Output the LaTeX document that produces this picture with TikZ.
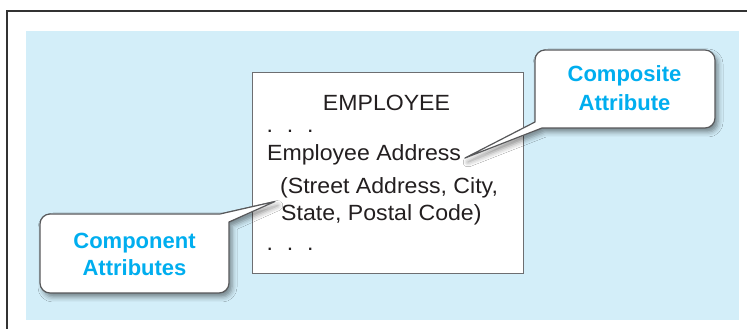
\documentclass[tikz,border=0pt]{standalone}
\usepackage{fontspec}
\setmainfont{Liberation Sans}
\newfontfamily\bodyfont{Liberation Sans}[FakeStretch=1.05]
\usetikzlibrary{shadows.blur}
\definecolor{bgblue}{HTML}{D3EEF9}
\definecolor{frame}{HTML}{333333}
\definecolor{txt}{HTML}{231F20}
\definecolor{cyantxt}{HTML}{00AEEF}
\definecolor{boxline}{HTML}{6D6E71}
\definecolor{callline}{HTML}{58595B}
\tikzset{
  bodytext/.style={inner sep=0pt, text=txt, font=\bodyfont\fontsize{22}{26}\selectfont},
  calltext/.style={inner sep=0pt, text=cyantxt, font=\fontsize{22}{26}\selectfont\bfseries, anchor=base},
  callshape/.style={fill=white, draw=callline, line width=1.2pt, line join=round,
    blur shadow={shadow xshift=3pt, shadow yshift=-4pt, shadow blur radius=5pt, shadow opacity=45}},
}
\begin{document}
\begin{tikzpicture}[x=1pt,y=1pt]
\useasboundingbox (0,0) rectangle (747,329);
% outer frame (left and top)
\draw[frame, line width=2pt] (7,0) -- (7,318) -- (747,318);
% blue panel
\fill[bgblue] (26,9) rectangle (739,298);
% entity box
\node[draw=boxline, fill=white, line width=1pt, minimum width=271pt, minimum height=201pt, inner sep=0pt] (ebox) at (387.5,155.5) {};
\node[bodytext, anchor=base] (ename) at (386.5,218.5) {EMPLOYEE};
\node[bodytext, anchor=base west] (dots1) at (266.4,196) {.\hspace{13.9pt}.\hspace{13.9pt}.};
\node[bodytext, anchor=base west] (addr) at (267,168) {Employee Address};
\node[bodytext, anchor=base west] (street) at (280,135) {(Street Address, City,};
\node[bodytext, anchor=base west] (state) at (281,108) {State, Postal Code)};
\node[bodytext, anchor=base west] (dots2) at (266.4,78) {.\hspace{13.9pt}.\hspace{13.9pt}.};
% pointer tips
\coordinate (ctip) at (465,171);
\coordinate (ptip) at (275,127.5);
% Composite callout
\path[callshape] (535,207) -- (535,269) arc[start angle=180, end angle=90, radius=10]
  -- (705,279) arc[start angle=90, end angle=0, radius=10]
  -- (715,211) arc[start angle=0, end angle=-90, radius=10]
  -- (542,201) -- (ctip) -- cycle;
\node[calltext] (comp1) at (624.5,247.3) {Composite};
\node[calltext] (comp2) at (624.5,218) {Attribute};
% Component callout
\path[callshape] (220,115) -- (50,115) arc[start angle=90, end angle=180, radius=10]
  -- (40,46) arc[start angle=180, end angle=270, radius=10]
  -- (219,36) arc[start angle=270, end angle=360, radius=10]
  -- (229,107) -- (ptip) -- cycle;
\node[calltext] (cmp1) at (134.5,80.7) {Component};
\node[calltext] (cmp2) at (134.5,53) {Attributes};
\end{tikzpicture}
\end{document}
